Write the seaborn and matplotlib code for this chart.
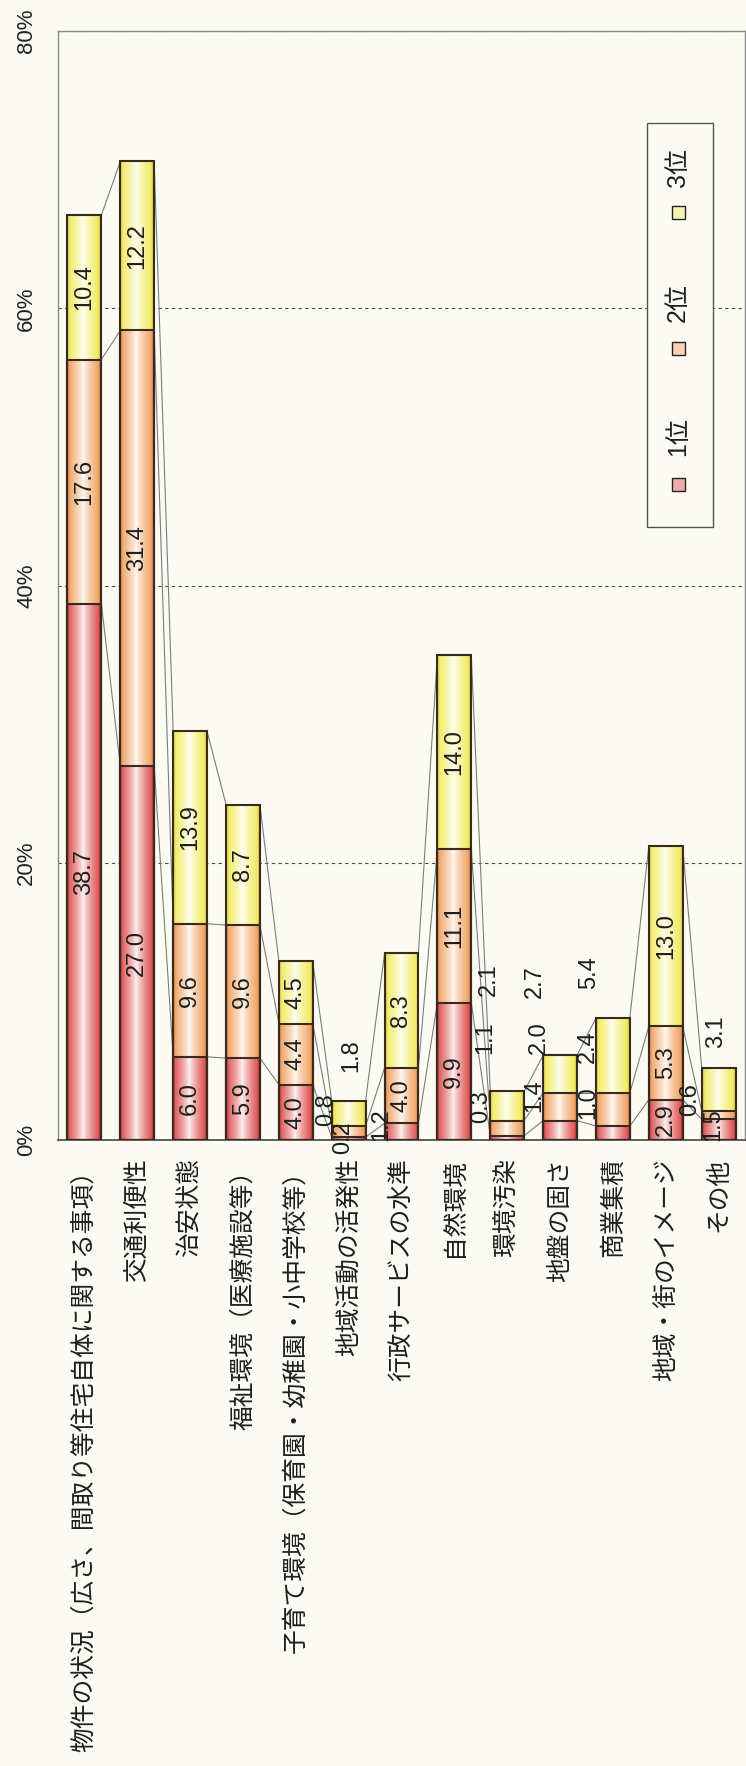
import numpy as np
import pandas as pd
import matplotlib
matplotlib.use("Agg")
import matplotlib.pyplot as plt
from matplotlib.patches import Rectangle
from matplotlib.colors import to_rgb
import seaborn as sns

# ---- data -------------------------------------------------------------
categories = [
    "物件の状況（広さ、間取り等住宅自体に関する事項）",
    "交通利便性",
    "治安状態",
    "福祉環境（医療施設等）",
    "子育て環境（保育園・幼稚園・小中学校等）",
    "地域活動の活発性",
    "行政サービスの水準",
    "自然環境",
    "環境汚染",
    "地盤の固さ",
    "商業集積",
    "地域・街のイメージ",
    "その他",
]
rank1 = [38.7, 27.0, 6.0, 5.9, 4.0, 0.2, 1.2, 9.9, 0.3, 1.4, 1.0, 2.9, 1.5]
rank2 = [17.6, 31.4, 9.6, 9.6, 4.4, 0.8, 4.0, 11.1, 1.1, 2.0, 2.4, 5.3, 0.6]
rank3 = [10.4, 12.2, 13.9, 8.7, 4.5, 1.8, 8.3, 14.0, 2.1, 2.7, 5.4, 13.0, 3.1]
series_names = ["1位", "2位", "3位"]
tick_values = [0, 20, 40, 60, 80]
tick_labels = ["0%", "20%", "40%", "60%", "80%"]

# ---- style ------------------------------------------------------------
sns.set_theme(style="white")
plt.rcParams["font.family"] = ["Liberation Sans", "Noto Sans CJK JP", "DejaVu Sans"]
CJK = ["Noto Sans CJK JP", "DejaVu Sans"]

BG = "#fbfbf4"
COLORS = ["#dc4444", "#f09a55", "#efe84e"]   # 1位, 2位, 3位
EDGE = "#3a2a1e"
BAR_W = 0.64

# small segments whose value labels sit beside the bar: (dx, y)
label_spots = {
    (5, 0): (-0.10, 0.2), (5, 1): (-0.43, 2.2), (5, 2): (0.05, 6.1),
    (6, 0): (-0.38, 1.1),
    (8, 0): (-0.50, 2.4), (8, 1): (-0.42, 7.4), (8, 2): (-0.35, 11.6),
    (9, 0): (-0.48, 3.2), (9, 1): (-0.40, 7.4), (9, 2): (-0.48, 11.4),
    (10, 0): (-0.47, 2.7), (10, 1): (-0.47, 6.7), (10, 2): (-0.45, 12.1),
    (12, 0): (-0.10, 1.1), (12, 1): (-0.53, 2.9), (12, 2): (-0.05, 7.8),
}

r1 = np.array(rank1)
r2 = np.array(rank2)
r3 = np.array(rank3)
cum = [r1, r1 + r2, r1 + r2 + r3]
df = pd.DataFrame({"cat": categories, "c1": cum[0], "c2": cum[1], "c3": cum[2]})

fig = plt.figure(figsize=(7.46, 17.66), dpi=100, facecolor=BG)
ax = fig.add_axes([0.0777, 0.3545, 0.921, 0.6279])
ax.set_facecolor(BG)


def gradient_for(color, n=96):
    c = np.array(to_rgb(color))
    light = c * 0.06 + np.ones(3) * 0.94
    t = np.linspace(0, 1, n)
    f = np.abs(2 * t - 0.96) ** 0.8
    f = np.clip(f / f.max(), 0, 1)
    rgb = light[None, :] * (1 - f[:, None]) + c[None, :] * f[:, None]
    # slightly deeper tone right at both edges
    edge = np.clip(1 - np.minimum(t, 1 - t) / 0.08, 0, 1) * 0.18
    rgb = rgb * (1 - edge[:, None])
    return rgb[None, :, :]


# stacked bars: cumulative totals drawn from the tallest layer down
for k in (2, 1, 0):
    start = len(ax.patches)
    sns.barplot(data=df, x="cat", y=f"c{k + 1}", order=categories,
                color=COLORS[k], saturation=1, width=BAR_W, errorbar=None, ax=ax)
    grad = gradient_for(COLORS[k])
    for p in ax.patches[start:]:
        x0, y0 = p.get_x(), p.get_y()
        w, h = p.get_width(), p.get_height()
        im = ax.imshow(grad, extent=[x0, x0 + w, y0, y0 + h], aspect="auto",
                       interpolation="bilinear", zorder=2 + (2 - k) * 0.1)
        im.set_clip_path(p)
        p.set_facecolor("none")
        p.set_edgecolor(EDGE)
        p.set_linewidth(1.5)
        p.set_zorder(3)

ax.set_xlim(-0.5, len(categories) - 0.5)
ax.set_ylim(0, 80)
ax.set_xlabel("")
ax.set_ylabel("")

# series lines joining the segment tops of neighbouring bars
half = BAR_W / 2
for c in cum:
    for i in range(len(categories) - 1):
        ax.plot([i + half, i + 1 - half], [c[i], c[i + 1]],
                color="#7d7d7d", lw=0.8, zorder=1.5)

# value labels
for k, vals in enumerate([r1, r2, r3]):
    base = cum[k] - vals
    for i, v in enumerate(vals):
        if (i, k) in label_spots:
            dx, y = label_spots[(i, k)]
            x = i + dx
        else:
            x, y = i, base[i] + v / 2
        ax.text(x, y, f"{v:.1f}", rotation=90, ha="center", va="center",
                fontsize=17, color="#1e1e1e", zorder=4)

# axes styling
ax.set_yticks(tick_values)
ax.set_yticklabels(tick_labels, rotation=90, va="center", fontsize=16,
                   color="#222222")
ax.tick_params(axis="y", length=0, pad=15)
ax.set_xticks(range(len(categories)))
ax.set_xticklabels(categories, rotation=90, ha="center", va="top",
                   fontsize=17.8, color="#1e1e1e", family=CJK)
ax.tick_params(axis="x", length=0, pad=13)
ax.yaxis.grid(True, linestyle=(0, (3, 3)), color="#4a4a4a", lw=0.8)
ax.xaxis.grid(False)
ax.set_axisbelow(True)
for side in ("left", "top", "right"):
    ax.spines[side].set_color("#8a8a8a")
    ax.spines[side].set_linewidth(1.0)
ax.spines["bottom"].set_color("#444444")
ax.spines["bottom"].set_linewidth(1.2)

# legend box, stacked along the value direction
ax.add_patch(Rectangle((0.857, 0.553), 0.096, 0.364, transform=ax.transAxes,
                       facecolor=BG, edgecolor="#555555", lw=1.0, zorder=5))
marker_y = [0.591, 0.714, 0.836]
text_y = [0.634, 0.755, 0.877]
for k, name in enumerate(series_names):
    c = np.array(to_rgb(COLORS[k]))
    ax.add_patch(Rectangle((0.893, marker_y[k] - 0.0058), 0.019, 0.0117,
                           transform=ax.transAxes,
                           facecolor=c * 0.45 + 0.55, edgecolor="#222222",
                           lw=1.0, zorder=6))
    ax.text(0.9025, text_y[k], name, transform=ax.transAxes, rotation=90,
            ha="center", va="center", fontsize=18, color="#1e1e1e", zorder=6)

fig.savefig("out.png", dpi=100, facecolor=BG)
